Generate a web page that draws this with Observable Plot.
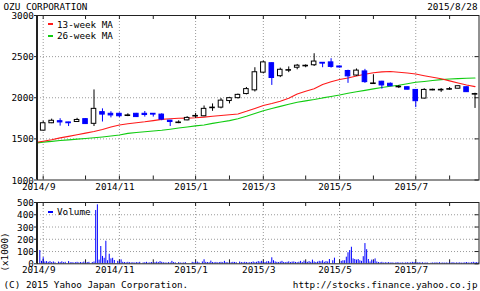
<!DOCTYPE html>
<html><head><meta charset="utf-8">
<script src="https://cdn.jsdelivr.net/npm/d3@7"></script>
<script src="https://cdn.jsdelivr.net/npm/@observablehq/plot@0.6"></script>
<style>
html,body{margin:0;padding:0;background:#fff;}
#chart{position:relative;width:480px;height:291px;overflow:hidden;font-family:"DejaVu Sans Mono",monospace;font-size:9.3px;color:#000;}
.t{position:absolute;line-height:10px;white-space:nowrap;}
.svgbox{position:absolute;left:0;}
.dash{position:absolute;width:5px;height:2px;}
</style></head><body><div id="chart"></div>
<script>
// ---- data ----
const title = "OZU CORPORATION";
const dateLabel = "2015/8/28";
const copyright = "(C) 2015 Yahoo Japan Corporation.";
const sourceUrl = "http://stocks.finance.yahoo.co.jp";
const weeks = ["2014-09-01","2014-09-08","2014-09-15","2014-09-22","2014-09-29","2014-10-06","2014-10-13","2014-10-20","2014-10-27","2014-11-03",
"2014-11-10","2014-11-17","2014-11-24","2014-12-01","2014-12-08","2014-12-15","2014-12-22","2014-12-29","2015-01-05","2015-01-12",
"2015-01-19","2015-01-26","2015-02-02","2015-02-09","2015-02-16","2015-02-23","2015-03-02","2015-03-09","2015-03-16","2015-03-23",
"2015-03-30","2015-04-06","2015-04-13","2015-04-20","2015-04-27","2015-05-04","2015-05-11","2015-05-18","2015-05-25","2015-06-01",
"2015-06-08","2015-06-15","2015-06-22","2015-06-29","2015-07-06","2015-07-13","2015-07-20","2015-07-27","2015-08-03","2015-08-10",
"2015-08-17","2015-08-24"];
const open  = [1600,1690,1715,1700,1705,1740,1683,1825,1805,1805,1788,1805,1805,1805,1795,1722,1700,1725,1778,1775,1880,1880,1960,1995,2045,2090,2305,2420,2262,2335,2365,2390,2395,2425,2430,2380,2325,2270,2320,2175,2195,2170,2135,2128,2095,1990,2098,2098,2105,2110,2128,2045];
const high  = [1715,1740,1745,1702,1750,1745,2095,1865,1830,1815,1805,1810,1833,1808,1805,1725,1720,1770,1810,1900,1925,1990,2005,2045,2125,2365,2445,2425,2360,2375,2405,2400,2535,2427,2475,2385,2335,2350,2345,2280,2200,2180,2150,2130,2100,2110,2105,2112,2125,2145,2130,2055];
const low   = [1595,1685,1655,1650,1700,1675,1650,1705,1755,1760,1770,1760,1765,1765,1720,1650,1685,1720,1750,1770,1835,1865,1925,1985,2035,2070,2290,2150,2245,2305,2340,2365,2380,2365,2360,2360,2175,2260,2175,2165,2105,2135,2112,2095,1880,1985,2085,2065,2092,2105,2065,1870];
const close = [1690,1720,1700,1690,1730,1680,1865,1795,1785,1775,1788,1765,1790,1795,1735,1705,1703,1755,1785,1865,1885,1965,1995,2035,2105,2310,2430,2240,2340,2342,2390,2393,2440,2415,2375,2368,2260,2330,2190,2178,2150,2140,2138,2098,1958,2095,2100,2100,2110,2140,2068,2050];
// moving averages: first value belongs to the week before weeks[0] (line enters from the left edge)
const ma13 = [1455,1472,1490,1512,1530,1550,1570,1590,1615,1645,1668,1683,1697,1708,1722,1737,1745,1750,1752,1756,1765,1775,1785,1794,1803,1835,1870,1905,1930,1958,1995,2045,2080,2110,2160,2195,2222,2240,2265,2285,2303,2315,2320,2310,2300,2288,2268,2250,2230,2205,2180,2155,2135];
const ma26 = [1448,1460,1470,1480,1488,1497,1505,1513,1523,1535,1548,1567,1578,1587,1596,1604,1618,1632,1645,1658,1668,1688,1705,1722,1745,1775,1808,1843,1870,1895,1920,1945,1962,1978,1998,2015,2033,2055,2073,2090,2108,2125,2140,2152,2170,2188,2198,2210,2220,2228,2233,2237,2240];
// daily volume (x1000), Mon..Fri of each week, 0 = market closed
const volume = [
108,20,50,15,18, 12,18,10,15,8, 0,14,10,16,9, 12,0,18,8,10, 6,9,12,7,10,
8,14,6,10,12, 0,10,15,435,481, 30,141,60,45,184, 25,78,40,45,27, 0,20,15,32,12,
10,8,12,9,7, 9,6,10,8,12, 0,7,9,12,6, 8,10,6,9,14, 10,18,12,8,7,
6,9,7,20,10, 8,0,10,6,5, 7,9,0,0,0, 12,9,10,14,8, 0,15,33,12,10,
9,22,10,8,11, 7,10,12,9,20, 10,8,6,9,12, 11,9,0,14,10, 8,12,10,7,9,
10,15,9,12,18, 14,20,12,10,16, 18,12,49,25,15, 12,10,14,20,11, 9,12,16,10,14,
15,11,9,13,20, 10,22,14,12,18, 12,30,15,10,14, 20,16,25,12,18, 15,35,0,25,46,
0,0,0,20,25, 25,54,90,108,135, 40,35,30,35,25, 20,58,165,115,35, 15,30,20,40,15,
10,8,12,6,9, 7,10,6,8,5, 6,9,7,5,8, 5,7,9,6,8, 12,10,8,7,9,
6,8,5,7,6, 0,5,7,6,8, 6,9,5,7,5, 7,5,8,6,9, 5,7,6,8,5,
6,8,10,7,6, 9,12,8,10,7];
const priceTicks = [1000,1500,2000,2500,3000];
const priceGrid = [1500,2000,2500];
const volumeTicks = [0,100,200,300,400,500];
const volumeGrid = [100,200,300,400];
const monthLabels = ["2014/9","2014/11","2015/1","2015/3","2015/5","2015/7"];
const seriesNames = ["13-week MA","26-week MA","Volume"];

// ---- styles ----
const BLUE = "#0000ff", RED = "#ff1a1a", GREEN = "#11cc11", GRID = "#9a9a9a", INK = "#222";
const FONT = "DejaVu Sans Mono";
const W = 480;
const xDomain = [-0.673, 51.47];

const candles = weeks.map((w, i) => ({i, o: open[i], h: high[i], l: low[i], c: close[i], up: close[i] >= open[i]}));
const monthTicks = weeks.map((w, i) => {
  const [y, m, d] = w.split("-").map(Number);
  return {i, label: `${y}/${m}`, first: d <= 7};
}).filter(d => d.first);
const labeled = monthTicks.filter(d => monthLabels.includes(d.label));
const ma = ma13.map((v, k) => ({i: k - 1, a: v, b: ma26[k]}));
const vol = volume.map((v, k) => ({x: Math.floor(k / 5) + ((k % 5) - 2) / 5, v})).filter(d => d.v > 0);

function frameMarks(frameW, frameH, yTicks, yGrid, yFmt) {
  return [
    Plot.tickY(yGrid, {y: d => d, stroke: GRID, strokeDasharray: "1,2"}),
    Plot.tickX(labeled, {x: "i", stroke: GRID, strokeDasharray: "1,2"}),
    Plot.tickX(monthTicks, {x: "i", insetTop: frameH - 4, stroke: INK}),
    Plot.tickX(monthTicks, {x: "i", insetBottom: frameH - 4, stroke: INK}),
    Plot.tickY(yTicks, {y: d => d, insetLeft: frameW - 4, stroke: INK}),
    Plot.tickY(yTicks, {y: d => d, insetLeft: -3, insetRight: frameW, stroke: INK}),
    Plot.text(yTicks, {y: d => d, text: yFmt, frameAnchor: "left", textAnchor: "end", dx: -3.6, dy: 0.6, lineAnchor: "middle"})
  ];
}

// ---- main price chart ----
const mTop = 15, mBot = 15.5, mLeft = 37, mRight = 1.5, mainH = 195;
const mFW = W - mLeft - mRight, mFH = mainH - mTop - mBot;
const mainPlot = Plot.plot({
  width: W, height: mainH, marginTop: mTop, marginBottom: mBot, marginLeft: mLeft, marginRight: mRight,
  x: {domain: xDomain, axis: null},
  y: {domain: [1000, 3000], axis: null},
  color: {type: "identity"},
  style: {fontFamily: FONT, fontSize: "9.3px", background: "transparent", overflow: "visible", color: "#000"},
  marks: [
    ...frameMarks(mFW, mFH, priceTicks, priceGrid, d => String(d)),
    Plot.line(ma, {x: "i", y: "b", stroke: GREEN, strokeWidth: 1.1, clip: true}),
    Plot.line(ma, {x: "i", y: "a", stroke: RED, strokeWidth: 1.1, clip: true}),
    Plot.ruleX(candles, {x: "i", y1: "l", y2: "h", stroke: d => d.up ? "#000" : BLUE, strokeWidth: 1}),
    Plot.rect(candles.filter(d => Math.abs(d.o - d.c) >= 10), {x1: d => d.i - 0.27, x2: d => d.i + 0.27, y1: "o", y2: "c",
      fill: d => d.up ? "#fff" : BLUE, stroke: d => d.up ? "#000" : BLUE, strokeWidth: 1}),
    Plot.ruleY(candles.filter(d => Math.abs(d.o - d.c) < 10), {y: d => (d.o + d.c) / 2, x1: d => d.i - 0.33, x2: d => d.i + 0.33,
      stroke: d => d.up ? "#000" : BLUE, strokeWidth: 1.6}),
    Plot.frame({stroke: INK}),
    Plot.ruleX([xDomain[0]], {stroke: INK, strokeWidth: 2, dx: -0.5}),
    Plot.text(labeled, {x: "i", text: "label", frameAnchor: "bottom", dy: 7.2, dx: -4.5, lineAnchor: "middle"})
  ]
});

// ---- volume chart ----
const vTop = 12, vBot = 11.7, vH = 85;
const vFH = vH - vTop - vBot;
const volPlot = Plot.plot({
  width: W, height: vH, marginTop: vTop, marginBottom: vBot, marginLeft: mLeft, marginRight: mRight,
  x: {domain: xDomain, axis: null},
  y: {domain: [0, 500], axis: null},
  style: {fontFamily: FONT, fontSize: "9.3px", background: "transparent", overflow: "visible", color: "#000"},
  marks: [
    ...frameMarks(mFW, vFH, volumeTicks, volumeGrid, d => String(d)),
    Plot.ruleX(vol, {x: "x", y1: 0, y2: "v", stroke: BLUE, strokeWidth: 1}),
    Plot.frame({stroke: INK}),
    Plot.ruleX([xDomain[0]], {stroke: INK, strokeWidth: 2, dx: -0.5}),
    Plot.text(labeled, {x: "i", text: "label", frameAnchor: "bottom", dy: 6.7, dx: -4.5, lineAnchor: "middle"})
  ]
});

// ---- assemble ----
const root = document.getElementById("chart");
function box(el, top) { const d = document.createElement("div"); d.className = "svgbox"; d.style.top = top + "px"; d.appendChild(el); root.appendChild(d); }
function txt(s, css) { const d = document.createElement("div"); d.className = "t"; d.textContent = s; Object.assign(d.style, css); root.appendChild(d); return d; }
function dash(color, left, top) { const d = document.createElement("div"); d.className = "dash"; d.style.background = color; d.style.left = left + "px"; d.style.top = top + "px"; root.appendChild(d); }
box(mainPlot, 0);
box(volPlot, 190);
txt(title, {left: "3.5px", top: "1.6px"});
txt(dateLabel, {right: "2.5px", top: "1.6px"});
dash(RED, 48.3, 23.3); txt(seriesNames[0], {left: "57px", top: "19.5px"});
dash(GREEN, 48.3, 34.7); txt(seriesNames[1], {left: "57px", top: "30.9px"});
dash(BLUE, 48.3, 210.7); txt(seriesNames[2], {left: "57px", top: "206.9px"});
txt("(x1000)", {left: "-15px", top: "246.7px", width: "40px", textAlign: "center", transform: "rotate(-90deg)"});
txt(copyright, {left: "3.5px", top: "279.5px"});
txt(sourceUrl, {right: "2.5px", top: "279.5px"});
</script></body></html>
